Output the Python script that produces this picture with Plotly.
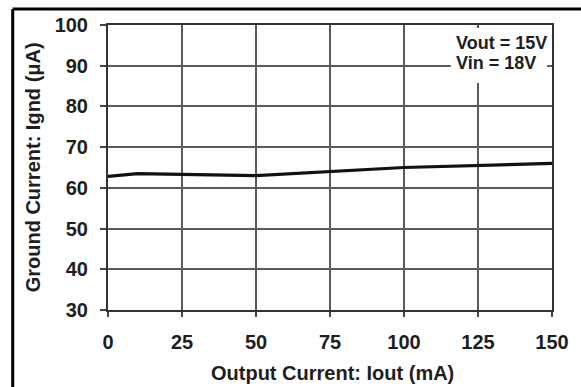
import plotly.graph_objects as go

# Data
output_current_ma = [0, 10, 50, 100, 150]
ground_current_ua = [62.8, 63.5, 63.0, 65.0, 66.0]

x_ticks = [0, 25, 50, 75, 100, 125, 150]
y_ticks = [30, 40, 50, 60, 70, 80, 90, 100]

x_title = "Output Current: Iout (mA)"
y_title = "Ground Current: Ignd (μA)"
note_lines = ["Vout = 15V", "Vin = 18V"]

FONT = "Liberation Sans, Arial, sans-serif"
TXT = "#1e1e1e"

fig = go.Figure()
fig.add_trace(go.Scatter(
    x=output_current_ma, y=ground_current_ua, mode="lines",
    line=dict(color="#111111", width=3.2), showlegend=False,
))

# plot area: x 108..560, y 25..310 px
L, R, T, B = 108, 560, 25, 310
W, H = 581, 387
pw, ph = R - L, B - T

def px_x(p):
    return (p - L) / pw

def px_y(p):
    return (B - p) / ph

fig.update_layout(
    width=W, height=H,
    margin=dict(l=L, r=W - R, t=T, b=H - B),
    paper_bgcolor="white", plot_bgcolor="white",
    font=dict(family=FONT, size=20, color=TXT),
    xaxis=dict(
        range=[0, 150], tickvals=x_ticks, ticktext=[str(v) for v in x_ticks],
        showgrid=True, gridcolor="#5a5a5a", gridwidth=1.6,
        showline=True, linecolor="#333333", linewidth=2, mirror=True,
        ticks="outside", ticklen=5, tickwidth=1.6, tickcolor="#444444",
        tickfont=dict(family=FONT, size=20, color=TXT, weight="bold"),
        zeroline=False, ticklabelstandoff=8,
    ),
    yaxis=dict(
        range=[30, 100], tickvals=y_ticks, ticktext=[str(v) for v in y_ticks],
        showgrid=True, gridcolor="#5a5a5a", gridwidth=1.6,
        showline=True, linecolor="#333333", linewidth=2, mirror=True,
        ticks="outside", ticklen=6, tickwidth=1.6, tickcolor="#444444",
        tickfont=dict(family=FONT, size=20, color=TXT, weight="bold"),
        zeroline=False, ticklabelstandoff=8,
    ),
)

# white box behind the conditions note
fig.add_shape(type="rect", xref="paper", yref="paper",
              x0=px_x(457), x1=px_x(555), y0=px_y(83), y1=px_y(28),
              fillcolor="white", line=dict(width=0), layer="above")
for i, t in enumerate(note_lines):
    fig.add_annotation(
        xref="paper", yref="paper", x=px_x(460), y=px_y(43 + 20 * i),
        xanchor="left", yanchor="middle", text=f"<b>{t}</b>", showarrow=False,
        font=dict(family=FONT, size=18, color=TXT),
    )

# axis titles
fig.add_annotation(xref="paper", yref="paper", x=px_x(337), y=px_y(373),
                   xanchor="center", yanchor="middle", text=f"<b>{x_title}</b>",
                   showarrow=False, font=dict(family=FONT, size=20, color=TXT))
fig.add_annotation(xref="paper", yref="paper", x=px_x(32), y=px_y(167),
                   xanchor="center", yanchor="middle", text=f"<b>{y_title}</b>",
                   textangle=-90, showarrow=False,
                   font=dict(family=FONT, size=20, color=TXT))

# outer frame (top and left edges visible)
fig.add_shape(type="line", xref="paper", yref="paper",
              x0=px_x(11), x1=px_x(W + 20), y0=px_y(9), y1=px_y(9),
              line=dict(color="black", width=3), layer="above")
fig.add_shape(type="line", xref="paper", yref="paper",
              x0=px_x(11), x1=px_x(11), y0=px_y(9), y1=px_y(H + 20),
              line=dict(color="black", width=3), layer="above")

fig.write_html("out.html",
               config={"displayModeBar": False},
               post_script="document.body.style.margin='0px';document.body.style.overflow='hidden';")
